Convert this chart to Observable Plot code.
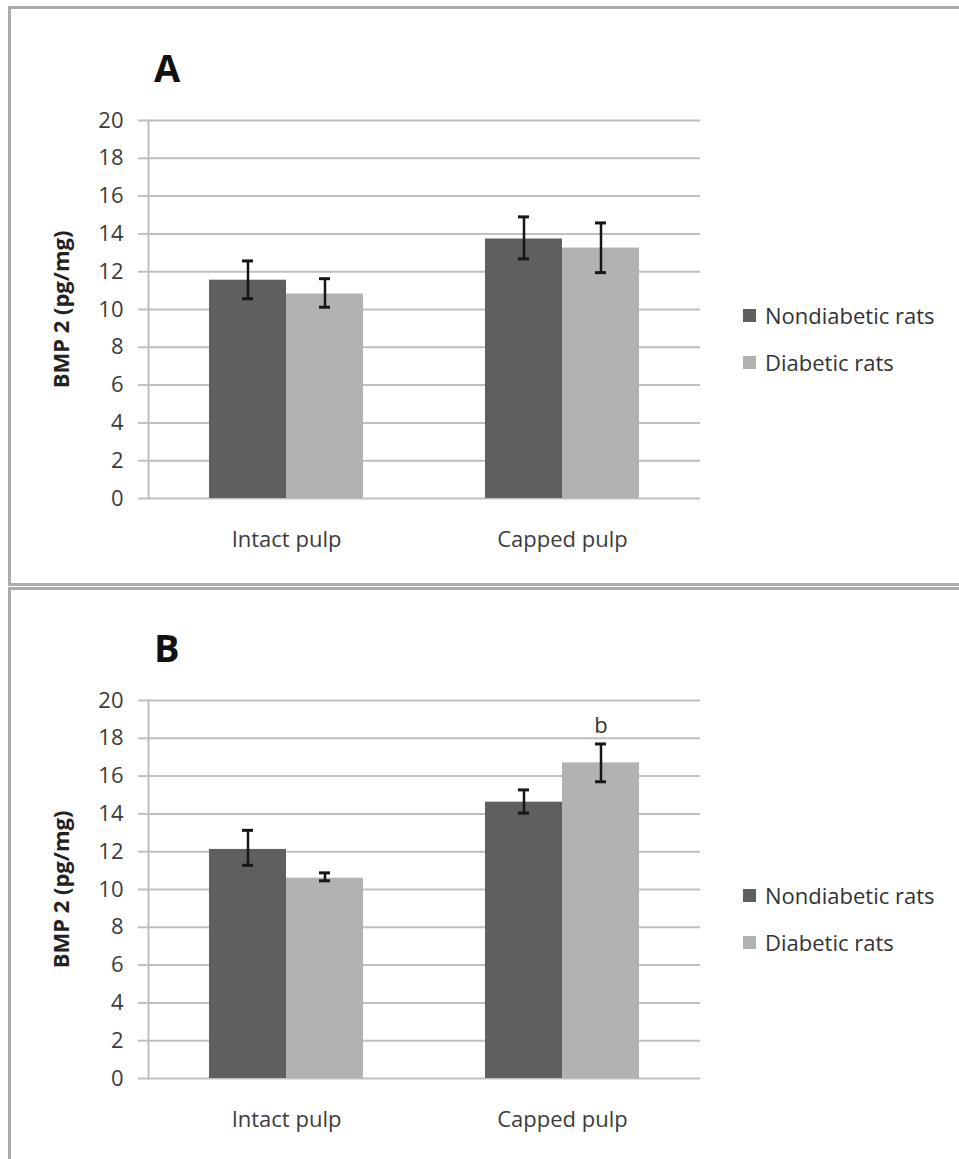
<!DOCTYPE html>
<html>
<head>
<meta charset="utf-8">
<script src="https://cdn.jsdelivr.net/npm/d3@7"></script>
<script src="https://cdn.jsdelivr.net/npm/@observablehq/plot@0.6"></script>
<style>
  html, body { margin: 0; padding: 0; background: #fff; }
  #page { position: relative; width: 959px; height: 1159px; overflow: hidden; font-family: "Open Sans", sans-serif; }
  .panel { position: absolute; left: 8px; width: 1000px; border: 3px solid #ababab; box-sizing: border-box; }
  .title { position: absolute; font-family: "Open Sans", sans-serif; font-weight: bold; font-size: 38px; line-height: 38px; color: #111; }
  .chart { position: absolute; left: 0; }
  .legend { position: absolute; left: 743px; font-size: 22px; color: #333; }
  .legend .row { position: absolute; left: 0; white-space: nowrap; display: flex; align-items: center; height: 30px; }
  .legend .sw { width: 13px; height: 13px; margin-right: 9px; }
  g[aria-label="y-axis label"] text, g[aria-label="y-axis label"] { font-weight: bold; fill: #222; }
</style>
</head>
<body>
<div id="page"></div>
<script>
// ---- data ----
const categories = ["Intact pulp", "Capped pulp"];
const series = ["Nondiabetic rats", "Diabetic rats"];
const seriesColors = ["#5f5f5f", "#b2b2b2"];
const yTicks = [0, 2, 4, 6, 8, 10, 12, 14, 16, 18, 20];
const yLabel = "BMP 2 (pg/mg)";

// Panel A: [category][series]
const meansA = [[11.55, 10.82], [13.73, 13.25]];
const lowA   = [[10.57, 10.12], [12.68, 11.95]];
const highA  = [[12.57, 11.63], [14.90, 14.58]];
const notesA = [["", ""], ["", ""]];

// Panel B
const meansB = [[12.12, 10.60], [14.62, 16.70]];
const lowB   = [[11.28, 10.46], [14.04, 15.70]];
const highB  = [[13.13, 10.88], [15.27, 17.70]];
const notesB = [["", ""], ["", "b"]];

const panelTitles = ["A", "B"];

function rows(means, lows, highs, notes) {
  const out = [];
  categories.forEach((c, i) => series.forEach((s, j) => out.push({
    category: c, series: s, value: means[i][j], lo: lows[i][j], hi: highs[i][j], note: notes[i][j]
  })));
  return out;
}

function makeChart(data) {
  const err = {fx: "category", x: "series", stroke: "#161616"};
  return Plot.plot({
    width: 720,
    height: 580,
    marginLeft: 147,
    marginRight: 20,
    marginTop: 120,
    marginBottom: 82,
    style: {fontFamily: "Open Sans", fontSize: "22px", color: "#3c3c3c", background: "transparent", overflow: "visible"},
    fx: {domain: categories, padding: 0, label: null},
    x: {domain: series, paddingInner: 0, paddingOuter: 0.772, axis: null},
    y: {domain: [0, 20]},
    color: {domain: series, range: seriesColors},
    marks: [
      Plot.gridY(yTicks, {stroke: "#bfbfbf", strokeOpacity: 1, strokeWidth: 2}),
      Plot.frame({anchor: "left", facetAnchor: "left", stroke: "#bfbfbf", strokeWidth: 2}),
      Plot.axisY(yTicks, {tickSize: 10, tickPadding: 15, stroke: "#bfbfbf", strokeWidth: 2, fill: "#3c3c3c",
        label: yLabel, labelAnchor: "center", labelOffset: 95, labelArrow: "none"}),
      Plot.axisFx({anchor: "bottom", tickSize: 0, tickPadding: 33, label: null, fill: "#3c3c3c"}),
      Plot.barY(data, {fx: "category", x: "series", y: "value", fill: "series"}),
      Plot.ruleX(data, {...err, y1: "lo", y2: "hi", strokeWidth: 2.5}),
      Plot.tickY(data, {...err, y: "lo", strokeWidth: 3, insetLeft: 33, insetRight: 33}),
      Plot.tickY(data, {...err, y: "hi", strokeWidth: 3, insetLeft: 33, insetRight: 33}),
      Plot.text(data, {fx: "category", x: "series", y: "hi", text: "note", lineAnchor: "bottom", dy: -11, fill: "#333", fontSize: 22})
    ]
  });
}

const page = document.getElementById("page");
const panels = [
  {data: rows(meansA, lowA, highA, notesA), top: 0, boxTop: 6, boxH: 580},
  {data: rows(meansB, lowB, highB, notesB), top: 580, boxTop: 587, boxH: 600}
];

panels.forEach((p, k) => {
  const box = document.createElement("div");
  box.className = "panel";
  box.style.top = p.boxTop + "px";
  box.style.height = p.boxH + "px";
  page.appendChild(box);

  const chart = makeChart(p.data);
  const wrap = document.createElement("div");
  wrap.className = "chart";
  wrap.style.top = p.top + "px";
  wrap.appendChild(chart);
  page.appendChild(wrap);

  const t = document.createElement("div");
  t.className = "title";
  t.textContent = panelTitles[k];
  t.style.left = "154px";
  t.style.top = (p.top + 48) + "px";
  page.appendChild(t);

  const leg = document.createElement("div");
  leg.className = "legend";
  leg.style.top = (p.top + 300) + "px";
  series.forEach((s, j) => {
    const r = document.createElement("div");
    r.className = "row";
    r.style.top = (j * 47) + "px";
    const sw = document.createElement("span");
    sw.className = "sw";
    sw.style.background = seriesColors[j];
    const lab = document.createElement("span");
    lab.textContent = s;
    r.appendChild(sw);
    r.appendChild(lab);
    leg.appendChild(r);
  });
  page.appendChild(leg);
});
</script>
</body>
</html>
